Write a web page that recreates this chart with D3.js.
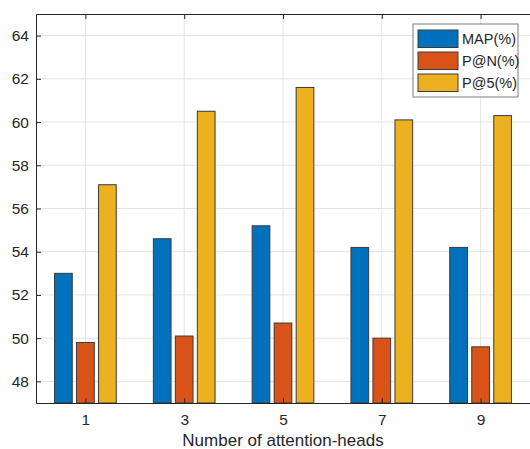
<!DOCTYPE html>
<html>
<head>
<meta charset="utf-8">
<script src="https://cdn.jsdelivr.net/npm/d3@7"></script>
<style>
  body { margin: 0; background: #fff; }
  svg { display: block; font-family: "Liberation Sans", Arial, sans-serif; }
</style>
</head>
<body>
<svg id="chart" width="530" height="449"></svg>
<script>
var heads = [1, 3, 5, 7, 9];
var keys = ["MAP(%)", "P@N(%)", "P@5(%)"];
var mapVals = [53.0, 54.6, 55.2, 54.2, 54.2];
var pnVals = [49.8, 50.1, 50.7, 50.0, 49.6];
var p5Vals = [57.1, 60.5, 61.6, 60.1, 60.3];
var yTicks = [48, 50, 52, 54, 56, 58, 60, 62, 64];

var colors = ["#0072bd", "#d95319", "#edb120"];

var svg = d3.select("#chart"),
    margin = {top: 14, right: 0, bottom: 46, left: 36},
    width = +svg.attr("width") - margin.left - margin.right,
    height = +svg.attr("height") - margin.top - margin.bottom;

var rows = heads.map(function(h, i) {
    return {head: h, vals: [mapVals[i], pnVals[i], p5Vals[i]]};
});

var x = d3.scaleLinear().domain([0, 10]).range([0, width]);
var y = d3.scaleLinear().domain([47, 65]).range([height, 0]);

var barW = 17.7, pitch = 22;

var g = svg.append("g").attr("transform", "translate(" + margin.left + "," + margin.top + ")");

// grid
g.append("g").selectAll("line").data(yTicks).enter().append("line")
    .attr("x1", 0).attr("x2", width)
    .attr("y1", function(d) { return y(d); }).attr("y2", function(d) { return y(d); })
    .attr("stroke", "#e3e3e3").attr("stroke-width", 1);
g.append("g").selectAll("line").data(heads).enter().append("line")
    .attr("y1", 0).attr("y2", height)
    .attr("x1", function(d) { return x(d); }).attr("x2", function(d) { return x(d); })
    .attr("stroke", "#e3e3e3").attr("stroke-width", 1);

// bars
g.append("g").selectAll("g").data(rows).enter().append("g")
    .attr("transform", function(d) { return "translate(" + x(d.head) + ",0)"; })
    .selectAll("rect")
    .data(function(d) { return d.vals.map(function(v, k) { return {k: k, v: v}; }); })
    .enter().append("rect")
    .attr("x", function(d) { return (d.k - 1) * pitch - barW / 2; })
    .attr("y", function(d) { return y(d.v); })
    .attr("width", barW)
    .attr("height", function(d) { return height - y(d.v); })
    .attr("fill", function(d) { return colors[d.k]; })
    .attr("stroke", "#3a3a3a").attr("stroke-width", 1);

// axes
var axisColor = "#262626";
var yAxis = g.append("g").call(d3.axisLeft(y).tickValues(yTicks).tickSizeInner(-5).tickSizeOuter(0).tickPadding(7));
var xAxis = g.append("g").attr("transform", "translate(0," + height + ")")
    .call(d3.axisBottom(x).tickValues(heads).tickSizeInner(-5).tickSizeOuter(0).tickPadding(11));
var xTop = g.append("g").call(d3.axisTop(x).tickValues(heads).tickSizeInner(-5).tickSizeOuter(0).tickFormat(""));

[yAxis, xAxis, xTop].forEach(function(a) {
    a.select(".domain").attr("stroke", axisColor);
    a.selectAll(".tick line").attr("stroke", axisColor);
    a.selectAll(".tick text").attr("fill", axisColor)
        .attr("font-size", 15.5).attr("font-family", "Liberation Sans, Arial, sans-serif");
});

g.append("text")
    .attr("x", x(5)).attr("y", height + 43)
    .attr("text-anchor", "middle")
    .attr("font-size", 17).attr("fill", axisColor)
    .text("Number of attention-heads");

// legend
var legend = svg.append("g").attr("transform", "translate(413,24)");
legend.append("rect")
    .attr("width", 105).attr("height", 73)
    .attr("fill", "#fff").attr("stroke", "#262626").attr("stroke-opacity", 0.6).attr("stroke-width", 1);
var li = legend.selectAll("g.item").data(keys).enter().append("g")
    .attr("class", "item")
    .attr("transform", function(d, i) { return "translate(5," + (6 + i * 22) + ")"; });
li.append("rect")
    .attr("width", 40).attr("height", 17.5)
    .attr("fill", function(d, i) { return colors[i]; })
    .attr("stroke", "#3a3a3a").attr("stroke-width", 1);
li.append("text")
    .attr("x", 44).attr("y", 9).attr("dy", "0.35em")
    .attr("font-size", 14.5).attr("fill", axisColor)
    .text(function(d) { return d; });
</script>
</body>
</html>
